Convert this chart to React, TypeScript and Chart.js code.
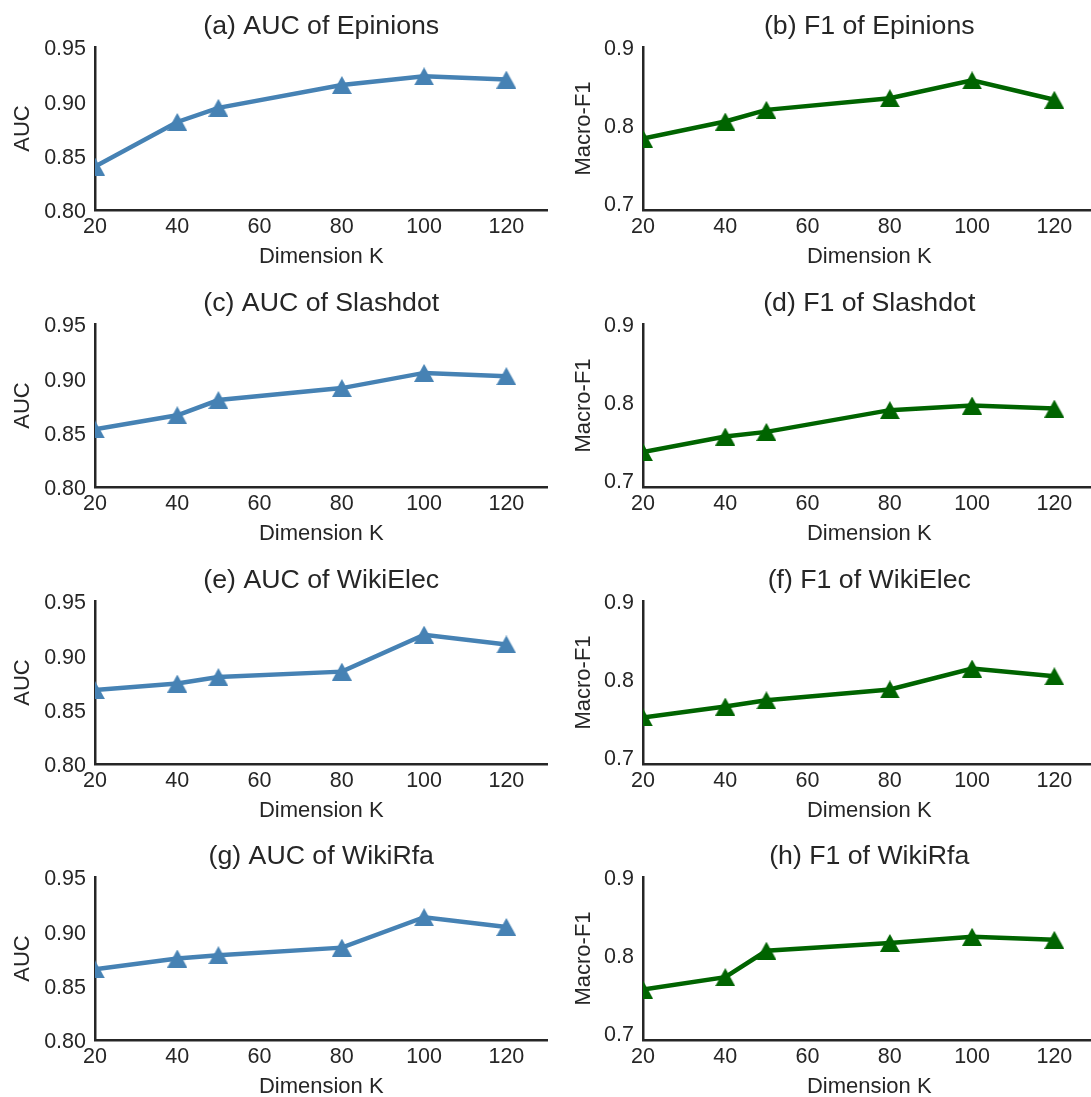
import React, { useEffect, useRef } from "react";
import { Chart, registerables } from "chart.js";

Chart.register(...registerables);

// ---------- data ----------
const dims = [20, 40, 50, 80, 100, 120];
const xTicks = [20, 40, 60, 80, 100, 120];
const aucTicks = [0.8, 0.85, 0.9, 0.95];
const f1Ticks = [0.7, 0.8, 0.9];

const aucEpinions = [0.840, 0.881, 0.894, 0.915, 0.923, 0.920];
const f1Epinions = [0.782, 0.804, 0.819, 0.834, 0.857, 0.832];
const aucSlashdot = [0.853, 0.866, 0.880, 0.891, 0.905, 0.902];
const f1Slashdot = [0.735, 0.755, 0.761, 0.789, 0.795, 0.791];
const aucWikiElec = [0.868, 0.874, 0.880, 0.885, 0.919, 0.910];
const f1WikiElec = [0.750, 0.764, 0.772, 0.786, 0.813, 0.803];
const aucWikiRfa = [0.865, 0.875, 0.878, 0.885, 0.913, 0.904];
const f1WikiRfa = [0.755, 0.771, 0.805, 0.815, 0.823, 0.819];

const titles = [
  "(a) AUC of Epinions",
  "(b) F1 of Epinions",
  "(c) AUC of Slashdot",
  "(d) F1 of Slashdot",
  "(e) AUC of WikiElec",
  "(f) F1 of WikiElec",
  "(g) AUC of WikiRfa",
  "(h) F1 of WikiRfa",
];
const seriesList = [
  aucEpinions, f1Epinions,
  aucSlashdot, f1Slashdot,
  aucWikiElec, f1WikiElec,
  aucWikiRfa, f1WikiRfa,
];

// ---------- style ----------
const BLUE = "#4682b4";
const GREEN = "#006400";
const INK = "#262626";
const FONT = "'Liberation Sans', Arial, Helvetica, sans-serif";

const PLOT_TOP = 47;
const PLOT_H = 163;
const X_AXIS_H = 67;
const Y_AXIS_W = 95;
const CANVAS_W = 562;
const CANVAS_H = PLOT_TOP + PLOT_H + X_AXIS_H;
const ROW_TOPS = [0, 277, 554, 830];
const COL_LEFTS = [0, 548];

function makeTriangle(color: string): HTMLCanvasElement {
  const c = document.createElement("canvas");
  c.width = 20;
  c.height = 18;
  const g = c.getContext("2d")!;
  g.fillStyle = color;
  g.beginPath();
  g.moveTo(10, 0);
  g.lineTo(20, 18);
  g.lineTo(0, 18);
  g.closePath();
  g.fill();
  return c;
}

function Panel({ index }: { index: number }) {
  const ref = useRef<HTMLCanvasElement | null>(null);
  const row = Math.floor(index / 2);
  const col = index % 2;
  const isAuc = col === 0;

  useEffect(() => {
    if (!ref.current) return;
    const color = isAuc ? BLUE : GREEN;
    const values = seriesList[index];
    const title = titles[index];
    const yTicks = isAuc ? aucTicks : f1Ticks;

    const titlePlugin = {
      id: "panelTitle" + index,
      afterDraw(chart: any) {
        const { ctx, chartArea } = chart;
        ctx.save();
        ctx.font = `26.7px ${FONT}`;
        ctx.fillStyle = INK;
        ctx.textAlign = "center";
        ctx.textBaseline = "alphabetic";
        ctx.fillText(title, (chartArea.left + chartArea.right) / 2, chartArea.top - 12.7);
        ctx.restore();
      },
    };

    const chart = new Chart(ref.current, {
      type: "line",
      data: {
        datasets: [
          {
            data: dims.map((x, i) => ({ x, y: values[i] })),
            borderColor: color,
            backgroundColor: color,
            borderWidth: 4.5,
            pointStyle: makeTriangle(color) as any,
            pointRadius: 10,
            pointHoverRadius: 10,
            tension: 0,
            fill: false,
          },
        ],
      },
      options: {
        animation: false,
        responsive: false,
        maintainAspectRatio: false,
        events: [],
        layout: { padding: { top: PLOT_TOP, left: 0, right: 5.5, bottom: 0 } },
        plugins: {
          legend: { display: false },
          tooltip: { enabled: false },
          title: { display: false },
        },
        scales: {
          x: {
            type: "linear",
            min: 20,
            max: 130,
            afterBuildTicks: (s: any) => {
              s.ticks = xTicks.map((v) => ({ value: v }));
            },
            afterFit: (s: any) => {
              s.height = X_AXIS_H;
            },
            grid: { display: false, drawTicks: false },
            border: { display: true, color: INK, width: 2.5 },
            ticks: {
              font: { family: FONT, size: 21.5 },
              color: INK,
              padding: 4,
              maxRotation: 0,
              autoSkip: false,
              callback: (v: any) => String(v),
            },
            title: {
              display: true,
              text: "Dimension K",
              font: { family: FONT, size: 22 },
              color: INK,
              padding: { top: 0, bottom: 6.8 },
            },
          },
          y: {
            type: "linear",
            min: isAuc ? 0.8 : 0.69,
            max: isAuc ? 0.95 : 0.9,
            afterBuildTicks: (s: any) => {
              s.ticks = yTicks.map((v) => ({ value: v }));
            },
            afterFit: (s: any) => {
              s.width = Y_AXIS_W;
            },
            grid: { display: false, drawTicks: false },
            border: { display: true, color: INK, width: 2.5 },
            ticks: {
              font: { family: FONT, size: 21.5 },
              color: INK,
              padding: 9,
              labelOffset: 2.5,
              autoSkip: false,
              callback: (v: any) => Number(v).toFixed(isAuc ? 2 : 1),
            },
            title: {
              display: true,
              text: isAuc ? "AUC" : "Macro-F1",
              font: { family: FONT, size: 22 },
              color: INK,
              padding: { top: isAuc ? 9.8 : 22.3, bottom: 0 },
            },
          },
        },
      },
      plugins: [titlePlugin],
    });
    return () => chart.destroy();
  }, [index]);

  return (
    <canvas
      ref={ref}
      width={CANVAS_W}
      height={CANVAS_H}
      style={{
        position: "absolute",
        left: COL_LEFTS[col],
        top: ROW_TOPS[row],
        width: CANVAS_W,
        height: CANVAS_H,
      }}
    />
  );
}

export default function App() {
  return (
    <div
      style={{
        position: "fixed",
        left: 0,
        top: 0,
        width: 1091,
        height: 1097,
        overflow: "hidden",
        background: "#ffffff",
      }}
    >
      {titles.map((_, i) => (
        <Panel key={i} index={i} />
      ))}
    </div>
  );
}
